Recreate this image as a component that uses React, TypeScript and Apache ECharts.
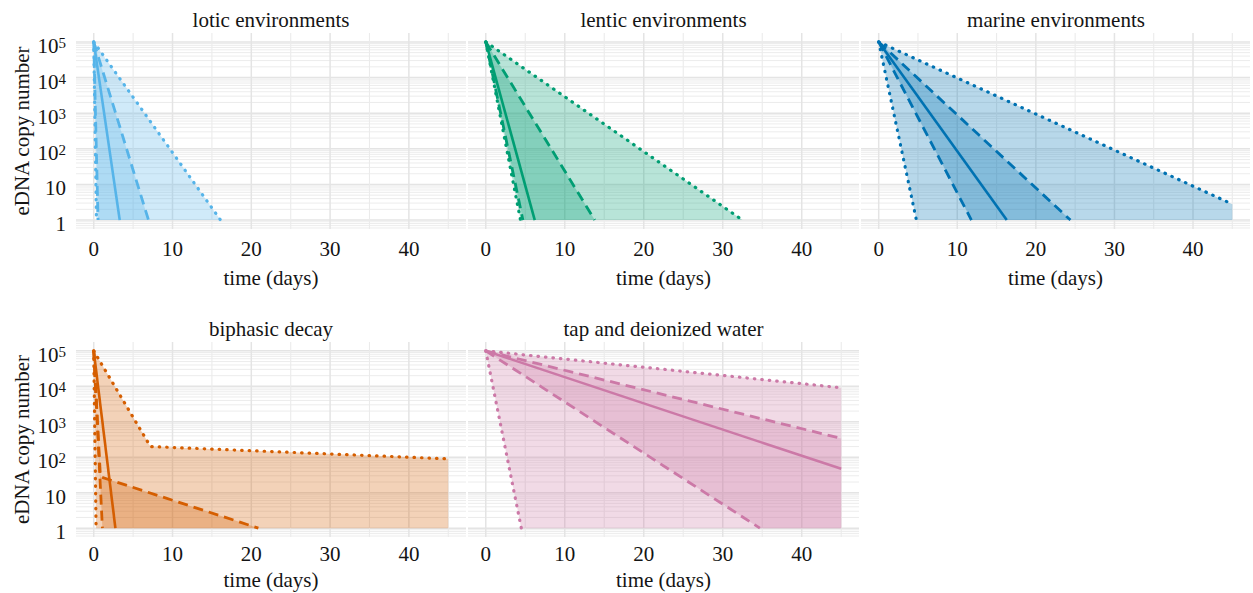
import React, { useEffect, useRef } from 'react';
import * as echarts from 'echarts';

type Pt = [number, number];

const FONT = '"Liberation Serif", "Times New Roman", serif';
const TEXT = '#141414';

const panelTitles = [
  'lotic environments',
  'lentic environments',
  'marine environments',
  'biphasic decay',
  'tap and deionized water',
];
const panelColors = ['#56B4E9', '#009E73', '#0072B2', '#D55E00', '#CC79A7'];
const xAxisTitle = 'time (days)';
const yAxisTitle = 'eDNA copy number';

const xTickValues = [0, 10, 20, 30, 40];
const xGridValues = [0, 5, 10, 15, 20, 25, 30, 35, 40, 45];
const yTickValues = [1, 10, 100, 1000, 10000, 100000];
const yTickLabels = ['1', '10', '10^2', '10^3', '10^4', '10^5'];
const yMinorMultipliers = [2, 3, 4, 5, 6, 7, 8, 9];
const yMinorDecades = [0.1, 1, 10, 100, 1000, 10000];
const xRange: Pt = [-2.25, 47.25];
const yRange: Pt = [0.5623, 177828];

// ---- lotic ----
const loticSolid: Pt[] = [[0, 100000], [3.3, 1]];
const loticDashedLow: Pt[] = [[0, 100000], [0.55, 1]];
const loticDashedHigh: Pt[] = [[0, 100000], [6.95, 1]];
const loticDottedLow: Pt[] = [[0, 100000], [0.35, 1]];
const loticDottedHigh: Pt[] = [[0, 100000], [16.1, 1]];
// ---- lentic ----
const lenticSolid: Pt[] = [[0, 100000], [6.2, 1]];
const lenticDashedLow: Pt[] = [[0, 100000], [4.7, 1]];
const lenticDashedHigh: Pt[] = [[0, 100000], [13.8, 1]];
const lenticDottedLow: Pt[] = [[0, 100000], [4.4, 1]];
const lenticDottedHigh: Pt[] = [[0, 100000], [32.5, 1]];
// ---- marine ----
const marineSolid: Pt[] = [[0, 100000], [16.3, 1]];
const marineDashedLow: Pt[] = [[0, 100000], [11.8, 1]];
const marineDashedHigh: Pt[] = [[0, 100000], [24.4, 1]];
const marineDottedLow: Pt[] = [[0, 100000], [4.8, 1]];
const marineDottedHigh: Pt[] = [[0, 100000], [45, 2.8]];
// ---- biphasic ----
const biphasicSolid: Pt[] = [[0, 100000], [2.75, 1]];
const biphasicDashedLow: Pt[] = [[0, 100000], [1.1, 1]];
const biphasicDashedHigh: Pt[] = [[0, 100000], [0.85, 28], [20.9, 1]];
const biphasicDottedLow: Pt[] = [[0, 100000], [0.3, 1]];
const biphasicDottedHigh: Pt[] = [[0, 100000], [7.2, 200], [45, 90]];
// ---- tap & deionized ----
const tapSolid: Pt[] = [[0, 100000], [20, 3300], [45, 47]];
const tapDashedLow: Pt[] = [[0, 100000], [34.7, 1]];
const tapDashedHigh: Pt[] = [[0, 100000], [45, 340]];
const tapDottedLow: Pt[] = [[0, 100000], [4.5, 1]];
const tapDottedHigh: Pt[] = [[0, 100000], [45, 9100]];

const panels = [
  { solid: loticSolid, dashedLow: loticDashedLow, dashedHigh: loticDashedHigh, dottedLow: loticDottedLow, dottedHigh: loticDottedHigh },
  { solid: lenticSolid, dashedLow: lenticDashedLow, dashedHigh: lenticDashedHigh, dottedLow: lenticDottedLow, dottedHigh: lenticDottedHigh },
  { solid: marineSolid, dashedLow: marineDashedLow, dashedHigh: marineDashedHigh, dottedLow: marineDottedLow, dottedHigh: marineDottedHigh },
  { solid: biphasicSolid, dashedLow: biphasicDashedLow, dashedHigh: biphasicDashedHigh, dottedLow: biphasicDottedLow, dottedHigh: biphasicDottedHigh },
  { solid: tapSolid, dashedLow: tapDashedLow, dashedHigh: tapDashedHigh, dottedLow: tapDottedLow, dottedHigh: tapDottedHigh },
];

const gridBoxes = [
  { left: 76, top: 33, width: 390, height: 196 },
  { left: 468, top: 33, width: 391, height: 196 },
  { left: 861, top: 33, width: 390, height: 196 },
  { left: 76, top: 342, width: 390, height: 195 },
  { left: 468, top: 342, width: 391, height: 195 },
];

function ribbon(upper: Pt[], lower: Pt[]): Pt[] {
  const pts: Pt[] = upper.slice();
  const last = upper[upper.length - 1];
  if (last[1] > 1) pts.push([last[0], 1]);
  const lowLast = lower[lower.length - 1];
  if (lowLast[1] > 1) pts.push([lowLast[0], 1]);
  return pts.concat(lower.slice().reverse());
}

const yMinorValues: number[] = [];
yMinorDecades.forEach((d) =>
  yMinorMultipliers.forEach((m) => {
    const v = d * m;
    if (v > yRange[0] && v < yRange[1]) yMinorValues.push(v);
  })
);

function yLabel(v: number): string {
  const idx = yTickValues.findIndex((t) => Math.abs(Math.log10(v) - Math.log10(t)) < 1e-6);
  if (idx < 0) return '';
  return yTickLabels[idx].replace(/^10\^(\d+)$/, '{b|10}{s|$1}');
}

function xLabel(v: number): string {
  const hit = xTickValues.find((t) => Math.abs(t - v) < 1e-6);
  return hit === undefined ? '' : String(hit);
}

export default function App() {
  const ref = useRef<HTMLDivElement>(null);
  useEffect(() => {
    if (!ref.current) return;
    const chart = echarts.init(ref.current, undefined, { renderer: 'svg' });
    const series: any[] = [];
    panels.forEach((p, i) => {
      const color = panelColors[i];
      // gridlines
      series.push({
        type: 'custom',
        xAxisIndex: i,
        yAxisIndex: i,
        z: 1,
        silent: true,
        data: [[0, 1]],
        renderItem: (_params: any, api: any) => {
          const children: any[] = [];
          yMinorValues.forEach((v) => {
            const a = api.coord([xRange[0], v]);
            const b = api.coord([xRange[1], v]);
            children.push({ type: 'line', shape: { x1: a[0], y1: a[1], x2: b[0], y2: b[1] }, style: { stroke: '#eaeaea', lineWidth: 0.9 } });
          });
          yTickValues.forEach((v) => {
            const a = api.coord([xRange[0], v]);
            const b = api.coord([xRange[1], v]);
            children.push({ type: 'line', shape: { x1: a[0], y1: a[1], x2: b[0], y2: b[1] }, style: { stroke: '#e4e4e4', lineWidth: 1.5 } });
          });
          xGridValues.forEach((v, k) => {
            const a = api.coord([v, yRange[0]]);
            const b = api.coord([v, yRange[1]]);
            children.push({ type: 'line', shape: { x1: a[0], y1: a[1], x2: b[0], y2: b[1] }, style: { stroke: k % 2 === 0 ? '#e4e4e4' : '#ebebeb', lineWidth: k % 2 === 0 ? 1.5 : 1.1 } });
          });
          return { type: 'group', children };
        },
      });
      const outer = ribbon(p.dottedHigh, p.dottedLow);
      const inner = ribbon(p.dashedHigh, p.dashedLow);
      [outer, inner].forEach((poly) => {
        series.push({
          type: 'custom',
          xAxisIndex: i,
          yAxisIndex: i,
          z: 2,
          silent: true,
          data: [[0, 1]],
          renderItem: (_params: any, api: any) => ({
            type: 'polygon',
            shape: { points: poly.map((pt) => api.coord(pt)) },
            style: { fill: color, opacity: 0.28 },
          }),
        });
      });
      const lines: [Pt[], string][] = [
        [p.dottedLow, 'dotted'],
        [p.dottedHigh, 'dotted'],
        [p.dashedLow, 'dashed'],
        [p.dashedHigh, 'dashed'],
        [p.solid, 'solid'],
      ];
      lines.forEach(([pts, kind]) => {
        const lineStyle =
          kind === 'dotted'
            ? { color, width: 3.2, type: [0.5, 7], cap: 'round' }
            : kind === 'dashed'
            ? { color, width: 2.8, type: [10, 6], cap: 'butt' }
            : { color, width: 2.6, type: 'solid', cap: 'butt' };
        series.push({
          type: 'line',
          xAxisIndex: i,
          yAxisIndex: i,
          z: 3,
          silent: true,
          data: pts,
          symbol: 'none',
          showSymbol: false,
          lineStyle,
        });
      });
    });

    const option: any = {
      animation: false,
      grid: gridBoxes.map((g) => ({ ...g, containLabel: false })),
      xAxis: gridBoxes.map((_g, i) => ({
        type: 'value',
        gridIndex: i,
        min: xRange[0],
        max: xRange[1],
        axisLine: { show: false },
        axisTick: { show: false },
        splitLine: { show: false },
        axisLabel: { margin: i < 3 ? 9 : 6, fontSize: 21, fontFamily: FONT, color: TEXT, formatter: xLabel },
        name: xAxisTitle,
        nameLocation: 'middle',
        nameGap: i < 3 ? 38 : 32,
        nameTextStyle: { fontSize: 21, fontFamily: FONT, color: TEXT },
      })),
      yAxis: gridBoxes.map((_g, i) => {
        const left = i === 0 || i === 3;
        return {
          type: 'log',
          logBase: 10,
          gridIndex: i,
          min: yRange[0],
          max: yRange[1],
          axisLine: { show: false },
          axisTick: { show: false },
          splitLine: { show: false },
          axisLabel: {
            show: left,
            margin: 10,
            fontSize: 21,
            fontFamily: FONT,
            color: TEXT,
            padding: [8, 0, 0, 0],
            formatter: yLabel,
            rich: {
              b: { fontSize: 21, fontFamily: FONT, color: TEXT, lineHeight: 21, verticalAlign: 'bottom' },
              s: { fontSize: 15, fontFamily: FONT, color: TEXT, lineHeight: 15, verticalAlign: 'top' },
            },
          },
          name: left ? yAxisTitle : '',
          nameLocation: 'middle',
          nameGap: 44,
          nameTextStyle: { fontSize: 21, fontFamily: FONT, color: TEXT },
        };
      }),
      graphic: gridBoxes.map((g, i) => ({
        type: 'text',
        x: g.left + g.width / 2,
        y: i < 3 ? 20 : 329,
        style: { text: panelTitles[i], font: `21px ${FONT}`, fill: TEXT, textAlign: 'center', textVerticalAlign: 'middle' },
      })),
      series,
    };
    chart.setOption(option);
    return () => chart.dispose();
  }, []);
  return <div ref={ref} style={{ position: 'absolute', left: 0, top: 0, width: 1253, height: 593, background: '#fff' }} />;
}
